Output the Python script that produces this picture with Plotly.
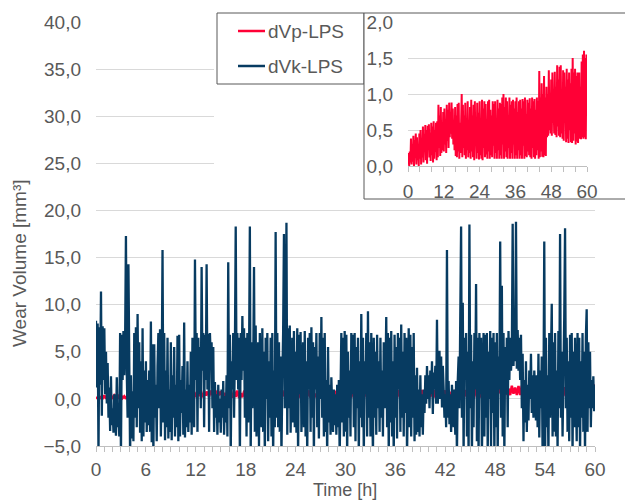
import plotly.graph_objects as go

# ---------------------------------------------------------------------------
# Data
# ---------------------------------------------------------------------------
series_names = ["dVp-LPS", "dVk-LPS"]

# sampling intervals in hours
dvk_step_h = 0.1
dvp_step_h = 0.2

# dVk-LPS wear volume [mm³], one row per hour (10 samples per row)
dvk_lps = [
    8.3, 1.2, 8.0, -6, 7.6, 1.5, 11.4, -1.8, 7.7, 2.0,
    7.5, 0.5, 5.0, -0.5, 3.8, -2.0, 1.2, -3.4, 2.4, -2.8,
    -1.0, -3.6, 0.5, -2.5, -3.9, 2.3, -3.0, -1.5, -4.0, 7.0,
    -6, 6.8, 2.0, 7.2, 2.5, 6.0, 17.3, 2.8, -2.0, 14.3,
    1.5, -6, 2.5, -4.2, 0.8, -4.5, 7.0, -2.0, 7.6, -3.0,
    9.0, -1.0, 6.0, -3.6, 4.0, -4.5, 7.5, -4.0, 3.0, -2.5,
    4.0, -3.5, 2.0, -2.8, 3.0, -3.5, 8.2, -4.6, 5.8, -6,
    5.8, -2.0, 1.5, -4.5, 3.5, 7.0, -1.0, 7.4, -4.0, 2.0,
    15.8, -2.5, 7.0, -4.4, 3.0, -3.0, 6.5, -4.2, 1.0, -3.5,
    6.0, -4.4, 2.5, -2.0, 5.5, -4.0, 1.5, -3.0, 6.7, -4.5,
    6.8, -4.0, 2.0, -1.5, 3.5, -3.8, 8.1, -4.1, 1.0, -3.0,
    4.0, -3.5, 1.5, -2.5, 5.0, -3.8, 6.5, -0.5, -3.0, 14.8,
    2.0, 7.0, -3.5, 6.5, 0.5, 5.5, -1.0, 14.0, 3.0, 7.0,
    -3.0, 6.8, 2.0, 14.3, 1.0, 6.9, -3.5, 7.0, 4.0, 6.0,
    -1.0, 5.5, -3.5, 1.8, -2.0, 0.5, -3.8, 1.5, -2.5, 0.0,
    -3.6, 1.0, -2.0, 1.9, -3.8, 0.3, -2.5, 2.5, -4.0, 14.5,
    -1.0, 6.8, -6, 4.0, 1.0, 7.0, -2.0, 5.0, 18.3, 2.0,
    7.0, 1.0, 6.5, -6, 7.0, 2.0, 8.8, 3.0, 7.5, -2.0,
    6.5, -4.0, 7.0, -2.5, 4.0, 18.3, -6, 6.0, -1.0, 3.0,
    14.0, -3.5, 7.8, -4.0, 2.0, 6.0, -5.0, 7.0, 1.0, -3.0,
    7.5, -3.5, 5.0, -6, 6.5, 0.0, 7.0, -4.5, 4.0, -2.0,
    6.5, -4.0, 7.0, -6, 3.0, -3.0, 17.7, -2.0, 7.0, -3.0,
    6.0, -3.5, 4.5, -6, 2.0, 7.0, 17.5, -1.0, 2.5, 18.7,
    -3.8, 7.5, -1.0, 7.8, -3.6, 3.0, 6.5, -2.5, 7.2, -3.0,
    5.0, -3.6, 7.5, -6, 6.8, 0.5, 7.1, -3.5, 2.0, 6.0,
    -3.0, 7.2, -4.0, 4.0, -6, 6.5, 1.0, 7.0, -3.5, 7.6,
    -2.0, 6.0, -6, 5.5, 1.0, 7.0, -3.0, 4.5, -4.2, 7.0,
    0.0, 8.7, -2.0, 6.5, -4.0, 7.0, -3.5, 2.0, -6, 5.5,
    -2.5, 1.5, -3.8, 2.3, -1.0, -3.5, 1.0, -2.8, 0.5, -3.8,
    1.5, -3.0, 2.0, -6, 0.5, 7.0, -2.5, 6.5, -4.0, 7.2,
    -3.5, 6.8, -6, 5.0, -2.0, 3.0, -4.0, 7.0, 0.5, 6.8,
    -3.0, 7.0, -4.5, 5.5, -1.0, 6.5, -6, 4.0, -2.0, 9.0,
    -3.0, 6.5, -6, 4.0, 0.5, 7.0, -4.0, 9.3, -2.0, 6.0,
    -4.0, 7.0, 0.5, -6, 6.5, -2.0, 5.0, -3.8, 6.8, -1.0,
    4.0, -3.5, 6.5, -2.0, 3.0, -4.0, 6.0, -1.0, 2.0, 8.7,
    -3.0, 7.0, -6, 6.5, -2.5, 7.2, -4.0, 4.0, -6, 6.8,
    -2.0, 5.5, -4.2, 7.0, 1.0, 6.5, -3.5, 7.9, -2.0, 5.0,
    -4.0, 7.0, -1.5, 6.5, -6, 3.0, 7.5, -3.0, 6.8, -4.0,
    5.5, -2.0, 7.0, -4.5, 2.5, -3.8, 3.3, -3.5, 1.0, -4.0,
    2.5, -3.0, 0.5, -3.8, 1.0, -1.5, 2.5, -0.5, 3.5, 0.0,
    2.5, -1.0, 3.0, 0.5, 4.0, -1.6, 2.8, 1.0, 3.5, -0.5,
    8.4, -0.5, 3.0, 5.1, 0.0, 4.5, -0.9, 3.5, 1.0, -2.0,
    0.5, -3.0, 15.8, -2.0, 1.9, -2.7, 0.5, -3.5, 1.5, -2.0,
    -3.0, 1.0, -3.8, 1.9, -6, 2.0, 4.5, -1.0, 7.0, 18.3,
    -2.0, 10.2, -6, 6.5, 2.0, 7.0, -4.0, 5.0, -6, 18.5,
    -1.0, 6.8, -6, 4.0, -3.0, 7.0, 1.0, 12.2, -4.5, 6.5,
    -6, 7.0, 0.5, 6.5, -6, 3.5, 7.0, -4.0, 6.8, -2.0,
    7.0, -6, 5.0, 0.0, 7.2, -5.0, 6.5, -1.5, 7.0, -6,
    6.0, -3.0, 7.0, -6, 4.5, 1.0, 16.7, -2.0, 12.0, -4.0,
    7.0, -6, 5.5, 0.5, 6.5, -3.0, 7.2, 2.0, 6.5, 3.0,
    5.0, 18.6, 3.5, 7.0, 4.0, 18.8, 3.2, 7.3, 3.0, 6.5,
    2.0, 6.8, -1.0, 4.8, -4.5, 2.0, -2.5, 4.0, -3.5, 1.5,
    -2.3, 3.0, 0.0, 4.8, -1.5, 2.5, -2.0, 3.0, 0.5, -2.3,
    2.5, -3.0, 4.8, -4.1, 3.0, -1.0, 4.5, -6, 0.0, 16.7,
    -6, 6.5, -3.0, 2.5, -6, 7.0, -2.0, 4.0, 10.1, -4.0,
    6.0, -3.5, 7.0, -4.0, 3.0, -5.5, 7.2, -1.0, 17.5, -2.0,
    5.0, -4.0, 7.0, 8.6, 18.1, -1.0, 6.5, -3.5, 4.0, -4.5,
    6.8, -2.0, 7.0, -6, 5.0, -3.0, 6.5, 0.0, -4.5, 7.0,
    -3.0, 6.5, -6, 4.0, -2.0, 7.0, -3.5, 5.0, -6, 6.5,
    9.5, -3.5, 6.0, -1.0, 5.0, -3.0, 2.0, -1.0, 2.4, -1.3,
    1.5,
]

# dVp-LPS wear volume [mm³], one row per hour (5 samples per row)
dvp_lps = [
    0.02, 0.18, 0.0, 0.2, 0.05,
    0.38, 0.02, 0.3, 0.06, 0.42,
    0.0, 0.36, 0.12, 0.45, 0.02,
    0.4, 0.08, 0.28, 0.0, 0.45,
    0.1, 0.5, 0.02, 0.38, 0.12,
    0.55, 0.05, 0.44, 0.2, 0.57,
    0.08, 0.5, 0.03, 0.56, 0.22,
    0.58, 0.12, 0.46, 0.07, 0.6,
    0.15, 0.55, 0.05, 0.62, 0.1,
    0.5, 0.2, 0.6, 0.08, 0.62,
    0.12, 0.85, 0.25, 0.7, 0.14,
    0.82, 0.18, 0.6, 0.22, 0.75,
    0.2, 0.8, 0.3, 0.65, 0.18,
    0.85, 0.35, 0.78, 0.25, 0.88,
    0.4, 0.72, 0.45, 0.88, 0.38,
    0.8, 0.3, 0.62, 0.22, 0.82,
    0.14, 0.7, 0.12, 0.86, 0.2,
    0.88, 0.1, 0.6, 0.18, 0.78,
    1.0, 0.12, 0.85, 0.25, 0.7,
    0.15, 0.88, 0.1, 0.6, 0.22,
    0.9, 0.12, 0.5, 0.18, 0.82,
    0.1, 0.92, 0.2, 0.7, 0.12,
    0.85, 0.08, 0.9, 0.3, 0.55,
    0.1, 0.88, 0.18, 0.74, 0.09,
    0.9, 0.15, 0.65, 0.1, 0.92,
    0.08, 0.8, 0.25, 0.9, 0.12,
    0.86, 0.16, 0.55, 0.1, 0.9,
    0.2, 0.92, 0.1, 0.78, 0.15,
    0.7, 0.12, 0.9, 0.28, 0.86,
    0.1, 0.9, 0.18, 0.62, 0.1,
    0.92, 0.22, 0.8, 0.1, 0.88,
    0.15, 0.86, 0.1, 0.95, 0.3,
    1.0, 0.1, 0.82, 0.2, 0.95,
    0.12, 0.9, 0.1, 0.7, 0.25,
    0.95, 0.1, 0.85, 0.18, 0.9,
    0.1, 0.92, 0.3, 0.8, 0.1,
    0.9, 0.15, 0.95, 0.1, 0.75,
    0.22, 0.9, 0.1, 0.92, 0.15,
    0.8, 0.1, 0.93, 0.28, 0.9,
    0.1, 0.95, 0.14, 0.72, 0.12,
    0.92, 0.2, 0.88, 0.15, 0.94,
    0.12, 0.8, 0.1, 0.95, 0.25,
    0.9, 0.12, 0.93, 0.1, 0.78,
    0.15, 0.95, 0.22, 0.9, 0.1,
    1.32, 0.12, 0.95, 0.2, 1.15,
    0.13, 1.0, 0.12, 1.25, 0.15,
    0.95, 0.14, 1.1, 0.4, 1.0,
    0.42, 1.33, 0.5, 1.0, 0.45,
    1.2, 0.42, 1.3, 0.6, 0.95,
    0.45, 1.31, 0.43, 1.1, 0.4,
    1.4, 0.55, 1.2, 0.42, 1.38,
    0.4, 1.4, 0.45, 1.05, 0.38,
    1.33, 0.35, 1.3, 0.6, 1.1,
    0.33, 1.35, 0.38, 1.2, 0.32,
    1.3, 0.5, 1.15, 0.33, 1.35,
    0.32, 1.5, 0.35, 1.3, 0.45,
    1.35, 0.3, 1.25, 0.34, 1.3,
    0.32, 0.8, 1.3, 0.38, 1.1,
    0.37, 1.45, 0.4, 1.55, 0.38,
    1.6, 0.4, 1.5, 0.37, 1.55,
    0.9,
]

main_x_ticks = [0, 6, 12, 18, 24, 30, 36, 42, 48, 54, 60]
inset_x_ticks = [0, 12, 24, 36, 48, 60]

t_dvk = [round(i * dvk_step_h, 2) for i in range(len(dvk_lps))]
t_dvp = [round(i * dvp_step_h, 2) for i in range(len(dvp_lps))]

# ---------------------------------------------------------------------------
# Styling
# ---------------------------------------------------------------------------
W, H = 625, 501
RED = "#ff0036"
BLUE = "#073b61"
TEXT = "#595959"
GRID = "#d9d9d9"
AXIS = "#bfbfbf"
BOX = "#595959"
FONT = "Liberation Sans, Arial, sans-serif"
FS = 19


def fx(px):
    return px / W


def fy(px):
    return 1 - px / H


fig = go.Figure()

# main chart
fig.add_trace(go.Scatter(x=t_dvp, y=dvp_lps, mode="lines", name=series_names[0],
                         line=dict(color=RED, width=2.5), xaxis="x", yaxis="y",
                         showlegend=False))
fig.add_trace(go.Scatter(x=t_dvk, y=dvk_lps, mode="lines", name=series_names[1],
                         line=dict(color=BLUE, width=2.3), xaxis="x", yaxis="y",
                         showlegend=False))
# inset with the dVp series on its own scale
fig.add_trace(go.Scatter(x=t_dvp, y=dvp_lps, mode="lines", name=series_names[0],
                         line=dict(color=RED, width=2), xaxis="x3", yaxis="y3",
                         showlegend=False))

tickfont = dict(family=FONT, size=FS, color=TEXT)

layout = dict(
    width=W, height=H,
    margin=dict(l=0, r=0, t=0, b=0, pad=0, autoexpand=False),
    paper_bgcolor="white", plot_bgcolor="white",
    separators=", ",
    font=dict(family=FONT, size=FS, color=TEXT),
    xaxis=dict(domain=[fx(96), fx(595)], range=[0, 60], anchor="y",
               tickmode="array", tickvals=main_x_ticks,
               ticks="outside", ticklen=5, tickcolor=AXIS, tickwidth=1,
               minor=dict(dtick=1, tick0=0, ticks="outside", ticklen=5,
                          tickcolor=AXIS, showgrid=False),
               showline=True, linecolor=AXIS, linewidth=1,
               showgrid=False, zeroline=False, tickfont=tickfont,
               ticklabelstandoff=1, automargin=False),
    yaxis=dict(domain=[fy(446), fy(22)], range=[-5, 40.001], anchor="x",
               dtick=5, tick0=0, tickformat=".1f",
               showgrid=True, gridcolor=GRID, gridwidth=1,
               zeroline=False, showline=False, ticks="",
               tickfont=tickfont, ticklabelstandoff=14, automargin=False),
    # blank panel in pixel units that carries the legend and inset frames
    xaxis2=dict(domain=[fx(214), 1], range=[214, 625], anchor="y2", visible=False),
    yaxis2=dict(domain=[fy(203), fy(9)], range=[203, 9], anchor="x2", visible=False),
    # inset axes
    xaxis3=dict(domain=[fx(408), fx(587)], range=[0, 60], anchor="y3",
                tickmode="array", tickvals=inset_x_ticks,
                ticks="outside", ticklen=5, tickcolor=AXIS, tickwidth=1,
                minor=dict(dtick=4, tick0=0, ticks="outside", ticklen=5,
                           tickcolor=AXIS, showgrid=False),
                showline=True, linecolor=AXIS, linewidth=1,
                showgrid=False, zeroline=False, tickfont=tickfont,
                ticklabelstandoff=3, automargin=False),
    yaxis3=dict(domain=[fy(166), fy(22)], range=[0, 2.0001], anchor="x3",
                dtick=0.5, tick0=0, tickformat=".1f",
                showgrid=True, gridcolor=GRID, gridwidth=1,
                zeroline=False, showline=False, ticks="",
                tickfont=tickfont, ticklabelstandoff=14, automargin=False),
)
fig.update_layout(**layout)

# legend frame and inset frame (white, so the main grid stops at them)
fig.add_shape(type="rect", xref="x2", yref="y2", x0=217, x1=364, y0=13, y1=84,
              fillcolor="white", line=dict(color=BOX, width=1), layer="below")
fig.add_shape(type="rect", xref="x2", yref="y2", x0=364, x1=640, y0=13, y1=199,
              fillcolor="white", line=dict(color=BOX, width=1), layer="below")

# legend entries
legend_rows = [(series_names[0], RED, 31), (series_names[1], BLUE, 66)]
for name, color, ypx in legend_rows:
    fig.add_shape(type="line", xref="x2", yref="y2", x0=238, x1=265, y0=ypx, y1=ypx,
                  line=dict(color=color, width=2.5), layer="below")
    fig.add_annotation(text=name, xref="x2", yref="y2", x=266, y=ypx,
                       xanchor="left", yanchor="middle", showarrow=False,
                       font=dict(family=FONT, size=FS, color=TEXT))

# axis titles
fig.add_annotation(text="Wear Volume [mm³]", xref="paper", yref="paper",
                   x=fx(19), y=fy(263), textangle=-90, showarrow=False,
                   xanchor="center", yanchor="middle",
                   font=dict(family=FONT, size=FS, color=TEXT))
fig.add_annotation(text="Time [h]", xref="paper", yref="paper",
                   x=fx(345), y=0, showarrow=False,
                   xanchor="center", yanchor="bottom", borderpad=0,
                   font=dict(family=FONT, size=18, color=TEXT))

fig.write_html("out.html")
